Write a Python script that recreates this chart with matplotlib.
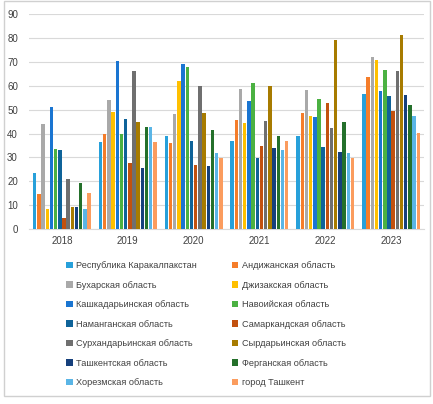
import numpy as np
from matplotlib import pyplot as plt
from matplotlib.patches import Rectangle

plt.rcParams['font.family'] = ['Liberation Sans', 'DejaVu Sans']

years = ["2018", "2019", "2020", "2021", "2022", "2023"]

regions = [
    "Республика Каракалпакстан", "Андижанская область",
    "Бухарская область", "Джизакская область",
    "Кашкадарьинская область", "Навоийская область",
    "Наманганская область", "Самаркандская область",
    "Сурхандарьинская область", "Сырдарьинская область",
    "Ташкентская область", "Ферганская область",
    "Хорезмская область", "город Ташкент",
]

colors = [
    "#27A0DA", "#F57D2A", "#A9A9A9", "#FFC000", "#1A75D1", "#4BB142",
    "#0F6399", "#C2510F", "#6F6F6F", "#A77B00", "#16407C", "#24702B",
    "#5AB5E6", "#FB9C5E",
]

# values per region, one entry per year 2018..2023
karakalpakstan = [23.5, 36.5, 39.0, 37.0, 38.9, 56.6]
andijan = [14.7, 39.8, 35.9, 45.7, 48.5, 63.9]
bukhara = [44.0, 54.1, 48.2, 58.6, 58.4, 72.1]
jizzakh = [8.4, 48.9, 62.0, 44.6, 47.4, 70.9]
kashkadarya = [51.0, 70.3, 69.2, 53.7, 47.1, 58.0]
navoi = [33.7, 40.0, 67.9, 61.2, 54.5, 66.7]
namangan = [33.1, 46.0, 36.9, 29.6, 34.4, 55.8]
samarkand = [4.5, 27.5, 26.8, 34.7, 52.7, 49.5]
surkhandarya = [21.1, 66.2, 60.1, 45.3, 42.3, 66.1]
syrdarya = [9.4, 44.9, 48.8, 60.0, 79.1, 81.5]
tashkent_obl = [9.4, 25.7, 26.4, 34.0, 32.2, 56.1]
fergana = [19.2, 42.8, 41.5, 39.1, 44.9, 51.9]
khorezm = [8.4, 42.6, 31.7, 33.1, 31.9, 47.4]
tashkent_city = [15.0, 36.3, 29.6, 36.9, 29.8, 40.3]

series = [karakalpakstan, andijan, bukhara, jizzakh, kashkadarya, navoi,
          namangan, samarkand, surkhandarya, syrdarya, tashkent_obl,
          fergana, khorezm, tashkent_city]

fig = plt.figure(figsize=(4.33, 4.04), dpi=100)
ax = fig.add_axes([29 / 433, 1 - 229 / 404, 395 / 433, 214.7 / 404])

n = len(series)
group_w = 0.89
slot = group_w / n
x = np.arange(len(years))
handles = []
for i, vals in enumerate(series):
    pos = x - group_w / 2 + slot * (i + 0.5)
    h = ax.bar(pos, vals, width=slot * 0.82, color=colors[i], label=regions[i],
               zorder=3)
    handles.append(h)

ax.set_xlim(-0.5, len(years) - 0.5)
ax.set_ylim(0, 90)
ax.set_yticks(range(0, 91, 10))
ax.set_xticks(x)
ax.set_xticklabels(years)
ax.tick_params(axis='both', length=0, labelsize=7, colors='#404040')
ax.tick_params(axis='y', pad=8)
ax.tick_params(axis='x', pad=5)
ax.grid(axis='y', color='#D9D9D9', linewidth=0.8, zorder=0)
for s in ['top', 'right', 'left']:
    ax.spines[s].set_visible(False)
ax.spines['bottom'].set_color('#D9D9D9')

# legend is filled column by column, so reorder to read row by row
order = list(range(0, n, 2)) + list(range(1, n, 2))
fig.legend([handles[i] for i in order], [regions[i] for i in order],
           loc='upper left', bbox_to_anchor=(58 / 433, 1 - 253 / 404),
           ncol=2, frameon=False, fontsize=6.6, handlelength=0.7,
           handleheight=0.7, handletextpad=0.4, labelspacing=1.14,
           columnspacing=3.8, labelcolor='#404040')

fig.patches.append(Rectangle((4 / 433, 1 - 396 / 404), 426 / 433, 395 / 404,
                             transform=fig.transFigure, fill=False,
                             edgecolor='#D0D0D0', linewidth=1))

plt.savefig("out.png", dpi=100)
